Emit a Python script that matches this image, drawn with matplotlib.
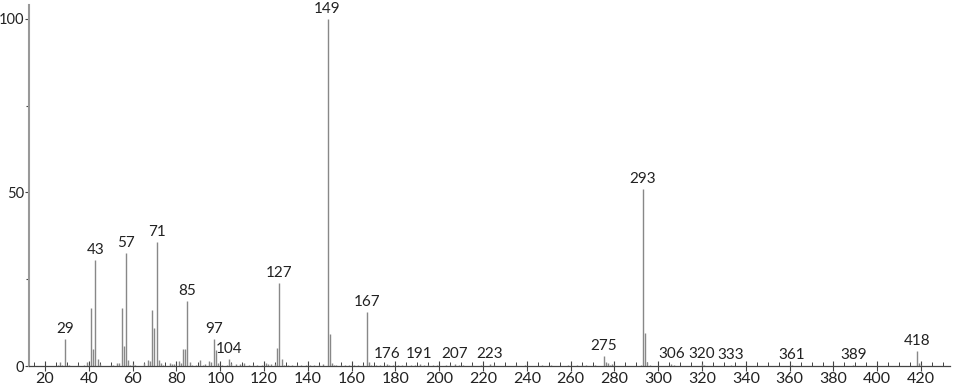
import matplotlib.pyplot as plt
from matplotlib.ticker import MultipleLocator

# main peaks (m/z, relative intensity)
mz_main = [27, 29, 41, 42, 43, 44, 55, 56, 57, 69, 70, 71, 83, 84, 85, 97, 98, 104, 105,
           126, 127, 128, 149, 150, 167, 168, 275, 276, 293, 294, 295, 418, 419]
int_main = [1.2, 7.7, 16.6, 4.9, 30.5, 1.9, 16.8, 5.9, 32.5, 16.1, 10.9, 35.6, 4.8, 4.9, 18.7, 7.8, 4.6, 2.0, 1.0,
            5.3, 23.8, 2.0, 100.0, 9.2, 15.6, 1.2, 2.9, 1.3, 51.0, 9.6, 1.3, 4.3, 0.8]

# small peaks
mz_small = [26, 28, 30, 31, 35, 38, 39, 40, 45, 50, 51, 53, 54, 58, 59, 60, 61,
            65, 67, 68, 72, 73, 74, 77, 78, 79, 81, 82, 86, 87, 89, 91, 92, 93, 95, 96, 99,
            101, 103, 107, 109, 111, 113, 115, 117, 119, 121, 122, 123, 125, 129,
            131, 133, 135, 137, 139, 141, 143, 145, 147, 151, 152, 153, 155, 157, 159, 161, 163, 165, 169,
            171, 173, 176, 177, 179, 181, 183, 185, 187, 189, 191, 193, 195, 197, 199, 203, 205, 207, 209,
            211, 215, 219, 223, 225, 235, 239, 247, 251, 259, 263, 265, 267, 271, 277, 278, 279, 280,
            292, 296, 306, 307, 320, 321, 333, 361, 389, 420]
int_small = [0.3, 0.3, 0.3, 0.4, 0.3, 0.3, 1.2, 0.4, 0.5, 0.3, 0.4, 0.8, 1.0, 1.6, 0.4, 0.5, 0.3,
             1.0, 1.8, 1.5, 1.6, 0.8, 0.3, 1.0, 0.5, 0.6, 1.5, 0.8, 1.2, 0.3, 0.4, 1.8, 0.4, 0.5, 1.5, 1.2, 0.8,
             0.3, 0.4, 0.5, 0.5, 0.8, 0.4, 0.4, 0.3, 0.3, 0.9, 0.6, 0.7, 0.5, 0.3,
             0.3, 0.3, 0.4, 0.3, 0.3, 0.3, 0.3, 0.3, 0.5, 0.8, 0.3, 0.4, 0.4, 0.3, 0.3, 0.3, 0.3, 0.4, 0.3,
             0.3, 0.3, 0.6, 0.3, 0.3, 0.3, 0.3, 0.2, 0.2, 0.2, 0.5, 0.3, 0.2, 0.2, 0.2, 0.2, 0.2, 0.5, 0.2,
             0.2, 0.2, 0.2, 0.5, 0.2, 0.2, 0.2, 0.2, 0.2, 0.2, 0.2, 0.2, 0.2, 0.2, 0.8, 0.3, 0.6, 0.3,
             0.3, 0.3, 0.5, 0.3, 0.5, 0.3, 0.4, 0.4, 0.3, 0.3]

labels = [29, 43, 57, 71, 85, 97, 104, 127, 149, 167, 176, 191, 207, 223,
          275, 293, 306, 320, 333, 361, 389, 418]

peaks = dict(zip(mz_small, int_small))
peaks.update(dict(zip(mz_main, int_main)))

fig = plt.figure(figsize=(9.66, 3.89), dpi=100)
ax = fig.add_axes([0.030, 0.059, 0.953, 0.928])

ax.vlines(list(peaks.keys()), 0, list(peaks.values()), color='#888888', lw=1.0)

for m in labels:
    ax.text(m, peaks.get(m, 0) + 0.9, str(m), ha='center', va='bottom',
            fontsize=11, family='Lato', color='#222222')

ax.set_xlim(12.7, 433)
ax.set_ylim(0, 104)
ax.xaxis.set_major_locator(MultipleLocator(20))
ax.xaxis.set_minor_locator(MultipleLocator(5))
ax.set_yticks([0, 50, 100])
ax.yaxis.set_minor_locator(MultipleLocator(25))

for s in ['top', 'right']:
    ax.spines[s].set_visible(False)
ax.spines['left'].set_color('#999999')
ax.spines['left'].set_linewidth(1.5)
ax.spines['bottom'].set_color('#444444')
ax.spines['bottom'].set_linewidth(0.9)

ax.tick_params(axis='x', which='major', direction='inout', length=7, width=0.8,
               color='#444444', labelsize=11.5, pad=0.5, labelcolor='#222222')
ax.tick_params(axis='x', which='minor', direction='in', length=3, width=0.7, color='#444444')
ax.tick_params(axis='y', which='major', direction='out', length=3, width=0.8,
               color='#444444', labelsize=10.5, pad=0.5, labelcolor='#222222')
ax.tick_params(axis='y', which='minor', direction='out', length=2, width=0.8, color='#444444')
for lab in ax.get_xticklabels() + ax.get_yticklabels():
    lab.set_family('Lato')

fig.savefig('out.png', dpi=100)
